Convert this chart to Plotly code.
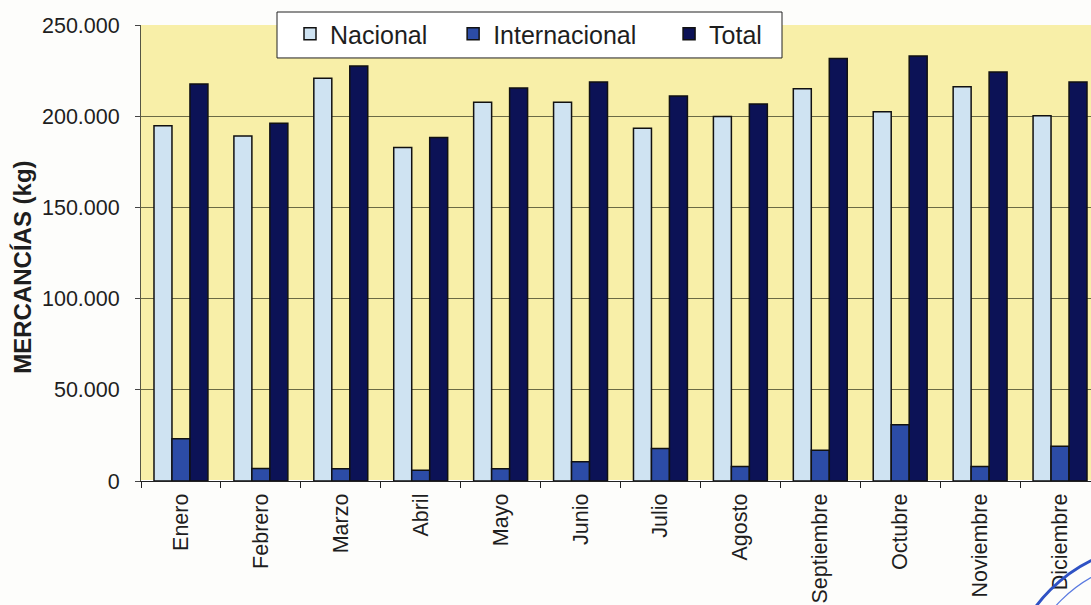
import plotly.graph_objects as go

meses = ["Enero", "Febrero", "Marzo", "Abril", "Mayo", "Junio", "Julio",
         "Agosto", "Septiembre", "Octubre", "Noviembre", "Diciembre"]
nacional = [194700, 189200, 220800, 182800, 207700, 207700,
            193400, 199800, 215100, 202400, 216200, 200200]
internacional = [23100, 6800, 6700, 5900, 6700, 10500,
                 17800, 7900, 16900, 30900, 7900, 19100]
total = [217700, 196200, 227500, 188300, 215500, 218800,
         211100, 206700, 231700, 233000, 224300, 218800]

outline = dict(color="#111111", width=1.5)
nb = "\u00a0"  # spacing after legend entries

fig = go.Figure()
fig.add_trace(go.Bar(name="Nacional" + nb * 3, x=meses, y=nacional,
                     marker=dict(color="#cfe3f2", line=outline)))
fig.add_trace(go.Bar(name="Internacional" + nb * 4, x=meses, y=internacional,
                     marker=dict(color="#2c4ca6", line=outline)))
fig.add_trace(go.Bar(name="Total", x=meses, y=total,
                     marker=dict(color="#0c1256", line=outline)))

# plot area spans x 141..1091 px, y 25..481.5 px
def px(x):
    return (x - 141) / 950

def py(y):
    return (481.5 - y) / 456.5

# legend frame
fig.add_shape(type="rect", xref="paper", yref="paper",
              x0=px(277), x1=px(782), y0=py(58), y1=py(12),
              fillcolor="white", line=dict(color="#222222", width=1),
              layer="above")

# scanned-stamp arcs in the lower-right corner
fig.add_shape(type="circle", xref="paper", yref="paper",
              x0=px(1005), x1=px(1315), y0=py(855), y1=py(545),
              line=dict(color="#2f52c4", width=3), layer="above")
fig.add_shape(type="circle", xref="paper", yref="paper",
              x0=px(1020), x1=px(1300), y0=py(840), y1=py(560),
              line=dict(color="#5a7ae0", width=1.2), layer="above")

# vertical axis title
fig.add_annotation(text="<b>MERCANCÍAS (kg)</b>", xref="paper", yref="paper",
                   x=px(23), y=py(268), xanchor="center", yanchor="middle",
                   textangle=-90, showarrow=False,
                   font=dict(size=24, color="#1e1e1e"))

fig.update_layout(
    width=1091, height=605,
    margin=dict(l=141, r=0, t=25, b=123.5),
    paper_bgcolor="#fdfdfb",
    plot_bgcolor="#f8efa8",
    barmode="group", bargap=0.325, bargroupgap=0,
    separators=",.",
    font=dict(family="Arial, Liberation Sans, sans-serif", size=21, color="#1e1e1e"),
    legend=dict(orientation="h", x=px(290), y=py(11), xanchor="left", yanchor="top",
                bgcolor="rgba(0,0,0,0)", borderwidth=0,
                font=dict(size=25), traceorder="normal", itemwidth=30),
    xaxis=dict(type="category", range=[-0.5, 11.3875], tickangle=-90,
               ticks="outside", ticklen=6, tickcolor="#222222",
               tickson="boundaries", showline=True, linecolor="#222222",
               linewidth=1, showgrid=False, tickfont=dict(size=21.5),
               ticklabelstandoff=3),
    yaxis=dict(range=[0, 250000], dtick=50000, tickformat=",d",
               ticks="outside", ticklen=5, tickcolor="#444444",
               showline=True, linecolor="#555544", linewidth=1,
               showgrid=True, gridcolor="#6b6a45", gridwidth=1,
               ticklabelstandoff=11, tickfont=dict(size=21.5)),
)

fig.write_html("out.html")
